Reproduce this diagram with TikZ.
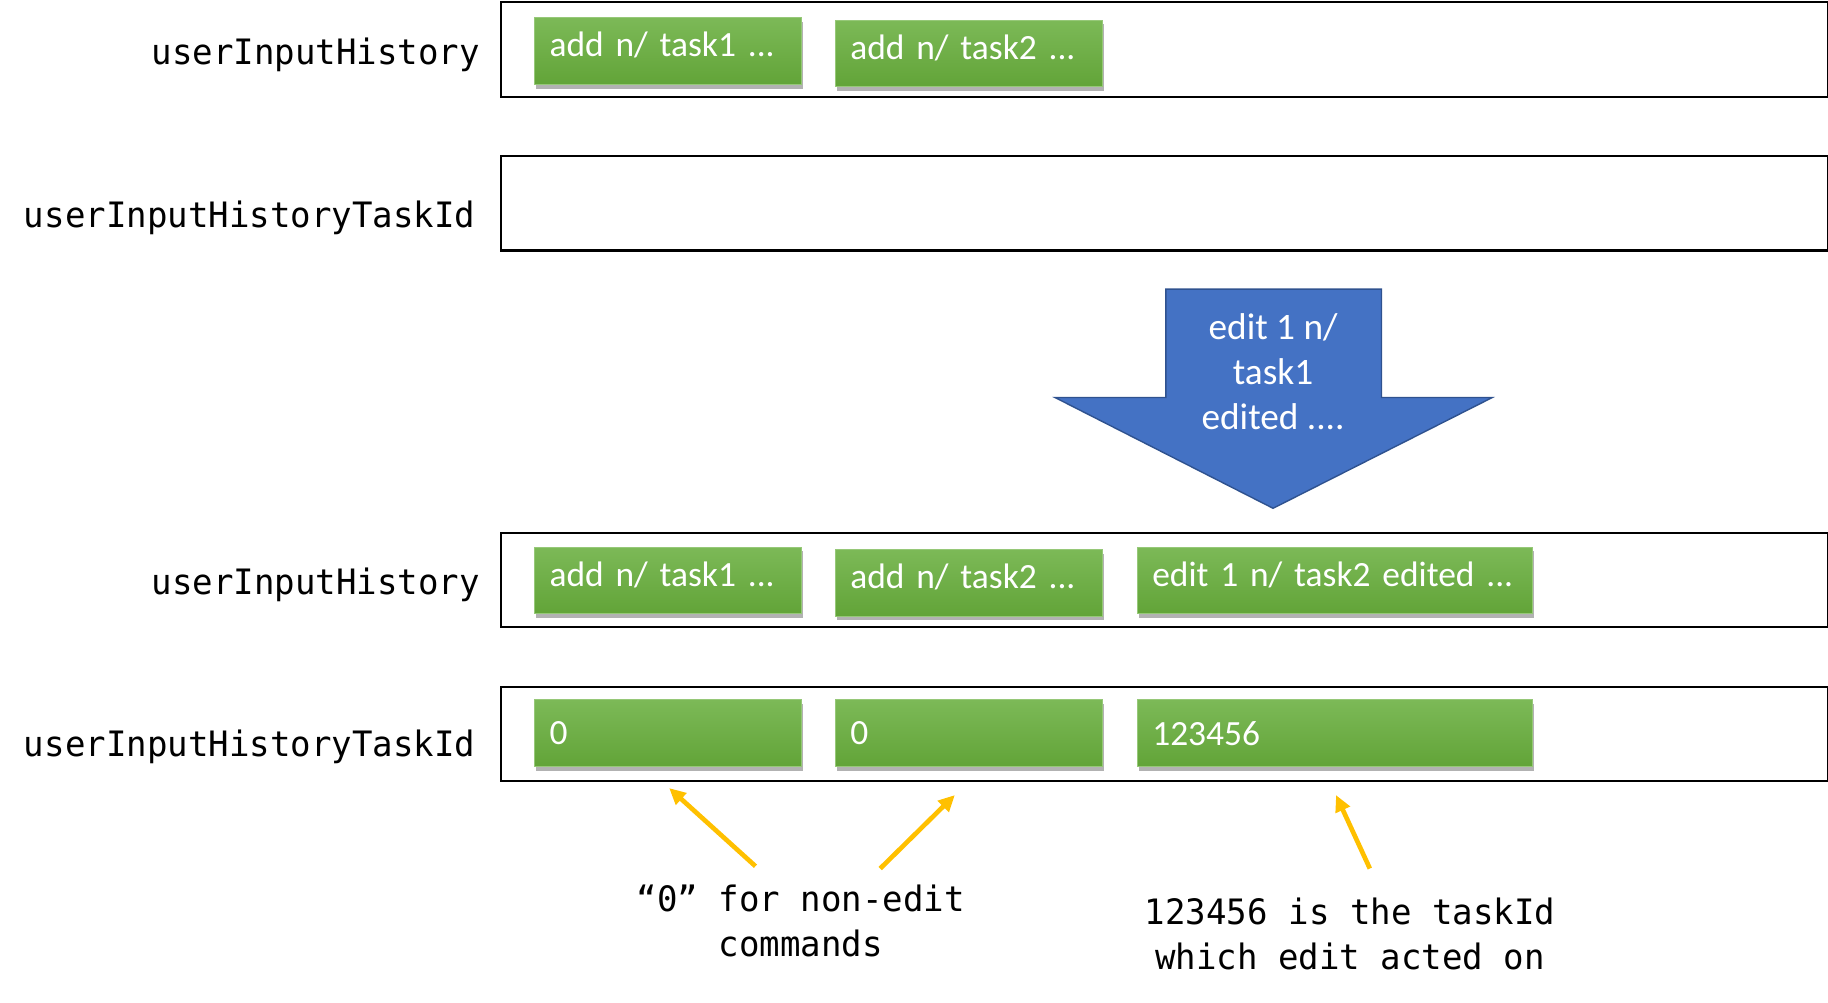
\documentclass[tikz,border=0pt]{standalone}
\usepackage{fontspec}
\setmainfont{Carlito}
\newfontfamily\monof[FakeStretch=0.974]{DejaVu Sans Mono}
\usetikzlibrary{arrows.meta,shadows}
\definecolor{gtop}{RGB}{124,185,87}
\definecolor{gbot}{RGB}{98,164,56}
\definecolor{grim}{RGB}{150,200,120}
\definecolor{bfill}{RGB}{68,114,196}
\definecolor{bline}{RGB}{47,82,143}
\definecolor{yarr}{RGB}{255,192,0}
\begin{document}
\begin{tikzpicture}[x=0.5pt,y=-0.5pt,
  lane/.style={draw=black,line width=1pt,anchor=north west,minimum width=569pt,minimum height=40.5pt,inner sep=0pt},
  gbox/.style={draw=grim,line width=0.4pt,top color=gtop,bottom color=gbot,text=white,
    font=\fontsize{15.2}{18}\selectfont,anchor=north west,minimum height=28.5pt,
    inner xsep=6.5pt,inner ysep=0pt,align=left,
    drop shadow={shadow xshift=0.6pt,shadow yshift=-1.8pt,opacity=0.3,fill=black}},
  raised/.style={text height=11pt,text depth=6pt},
  wa/.style={text width=101.5pt},
  wb/.style={text width=156.5pt},
  lbl/.style={font=\monof\fontsize{15}{19.3}\selectfont,anchor=east,inner sep=0pt},
  note/.style={font=\monof\fontsize{15}{19.5}\selectfont,align=center,inner sep=0pt},
  yarrow/.style={draw=yarr,line width=2pt,-{Triangle[length=7pt,width=6.5pt]}}
]
\useasboundingbox (0,0) rectangle (1568,859.5);

% lanes
\node[lane] (h1) at (429,1) {};
\node[lane] (t1) at (429,133) {};
\node[lane] (h2) at (429,456) {};
\node[lane] (t2) at (429,588) {};

% labels
\node[lbl] (lh1) at (412,47) {userInputHistory};
\node[lbl] (lt1) at (408,187) {userInputHistoryTaskId};
\node[lbl] (lh2) at (412,502) {userInputHistory};
\node[lbl] (lt2) at (408,641) {userInputHistoryTaskId};

% row 1
\node[gbox,wa,raised] (a1) at (458,15) {\mbox{add n/ task1 ...}};
\node[gbox,wa,raised] (b1) at (716,17) {\mbox{add n/ task2 ...}};

% big arrow
\filldraw[fill=bfill,draw=bline,line width=0.6pt]
  (1000,248) -- (1185,248) -- (1185,341) -- (1280,341) -- (1092,436)
  -- (905,341) -- (1000,341) -- cycle;
\node[text=white,font=\fontsize{16}{19.25}\selectfont,align=center] (cmd) at (1092,319)
  {edit 1 n/\\task1\\edited ....};

% row 3
\node[gbox,wa,raised] (a3) at (458,469) {\mbox{add n/ task1 ...}};
\node[gbox,wa,raised] (b3) at (716,471) {\mbox{add n/ task2 ...}};
\node[gbox,wb,raised] (c3) at (975,469) {\mbox{edit 1 n/ task2 edited ...}};

% row 4
\node[gbox,wa] (a4) at (458,600) {0};
\node[gbox,wa] (b4) at (716,600) {0};
\node[gbox,wb] (c4) at (975,600) {123456};

% notes
\node[note] (n1) at (687,790) {“0” for non-edit\\commands};
\node[note] (n2) at (1158,801) {123456 is the taskId\\which edit acted on};

\coordinate (p1) at (648,743);
\coordinate (q1) at (574,676);
\coordinate (p2) at (755,745);
\coordinate (q2) at (819,682);
\coordinate (p3) at (1175,745);
\coordinate (q3) at (1146,682);
\draw[yarrow] (p1) -- (q1);
\draw[yarrow] (p2) -- (q2);
\draw[yarrow] (p3) -- (q3);
\end{tikzpicture}
\end{document}
